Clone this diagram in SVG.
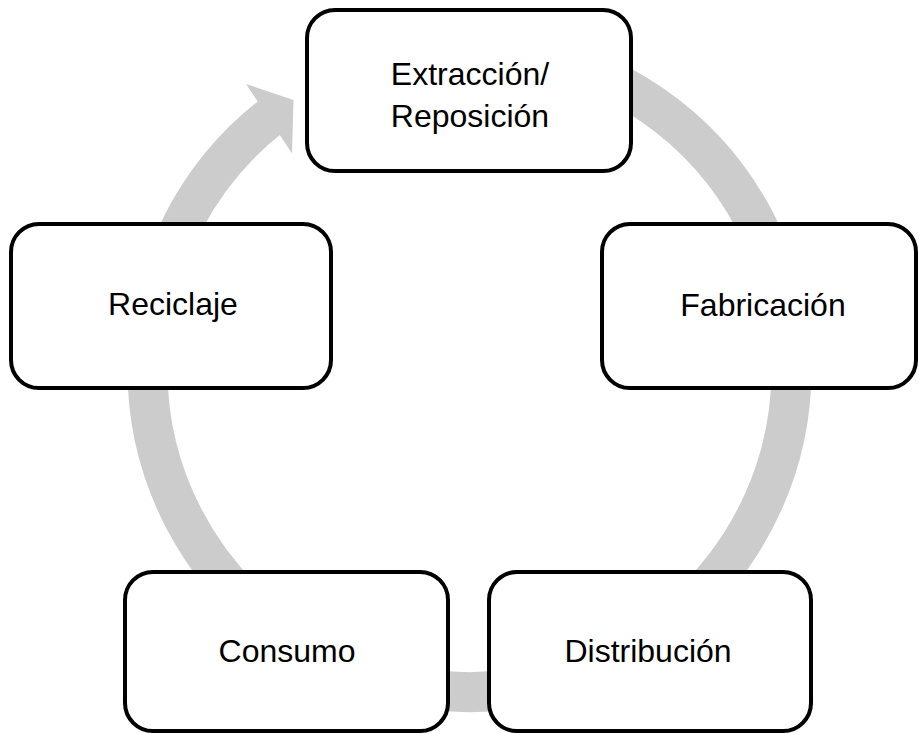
<svg xmlns="http://www.w3.org/2000/svg" width="919" height="734" viewBox="0 0 919 734">
<style>
.box{fill:#ffffff;stroke:#000000;stroke-width:4}
.lbl{font-family:"Liberation Sans",Arial,sans-serif;font-size:32px;fill:#000000;text-anchor:middle}
.ring{fill:none;stroke:#cccccc;stroke-width:40;stroke-linecap:butt}
</style>
<rect width="919" height="734" fill="#ffffff"/>
<g id="connectors">
<path class="ring" d="M 525.4 52.9 A 322 322 0 1 1 271.2 116.3"/>
<polygon points="246,84 293.5,100 292,153.5" fill="#cccccc"/>
</g>
<g id="extraccion">
<rect class="box" x="307" y="10" width="324" height="161" rx="28"/>
<text class="lbl" x="470" y="85">Extracción/</text>
<text class="lbl" x="470" y="127">Reposición</text>
</g>
<g id="fabricacion">
<rect class="box" x="602" y="224" width="314" height="164" rx="28"/>
<text class="lbl" x="763" y="316">Fabricación</text>
</g>
<g id="distribucion">
<rect class="box" x="489" y="572" width="322" height="159" rx="28"/>
<text class="lbl" x="648" y="662">Distribución</text>
</g>
<g id="consumo">
<rect class="box" x="125" y="572" width="323" height="159" rx="28"/>
<text class="lbl" x="287" y="662">Consumo</text>
</g>
<g id="reciclaje">
<rect class="box" x="11" y="224" width="320" height="164" rx="28"/>
<text class="lbl" x="173" y="315">Reciclaje</text>
</g>
</svg>
